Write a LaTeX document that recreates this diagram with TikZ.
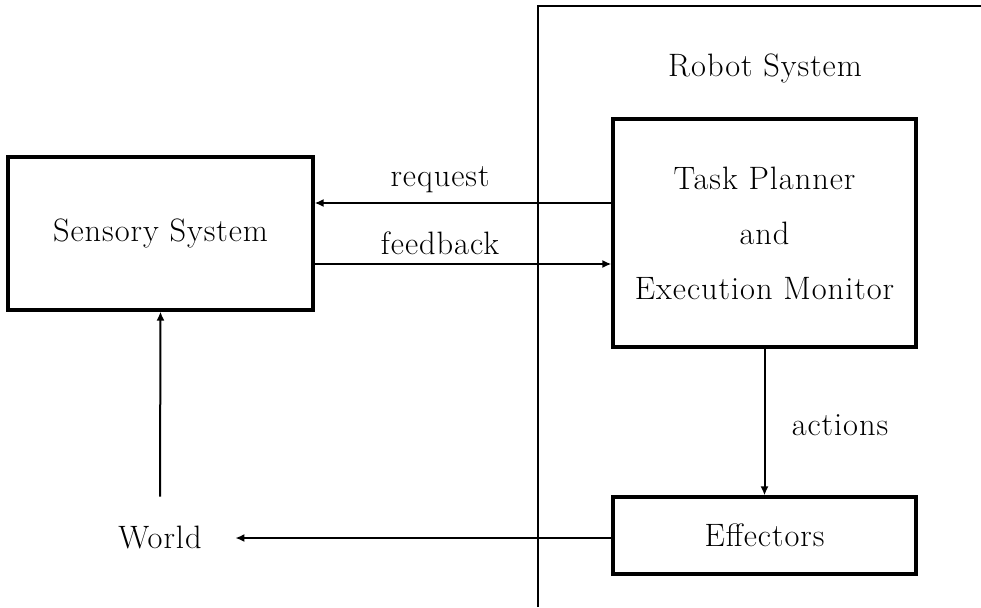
\documentclass[tikz,border=0pt]{standalone}
\usepackage{fontspec}
\setmainfont{Latin Modern Roman}[LetterSpace=3]
\usetikzlibrary{arrows.meta}
\begin{document}
\begin{tikzpicture}[x=0.5pt,y=-0.5pt,
  every node/.style={font=\fontsize{16.2}{27.5}\selectfont},
  blockbox/.style={draw,line width=1.6pt,inner sep=0pt,align=center},
  conn/.style={line width=1pt,-{Latex[length=4.5pt,width=4pt]}},
  plainline/.style={line width=1pt}]
\useasboundingbox (0,0) rectangle (981,607);
% robot system boundary
\coordinate (rtop) at (538,6);
\coordinate (rbot) at (538,607);
\coordinate (rright) at (981,6);
\draw[plainline] (rbot) -- (rtop) -- (rright);
\node (robot) at (765,68) {Robot System};
% blocks
\node[blockbox,minimum width=152.5pt,minimum height=76.5pt] (sensory) at (160.5,233.5) {Sensory System};
\node[blockbox,minimum width=151.5pt,minimum height=114pt] (task) at (764.5,233) {Task Planner\\and\\Execution Monitor};
\node[blockbox,minimum width=151.5pt,minimum height=38.5pt] (eff) at (764.5,535.5) {Effectors};
\node[inner sep=0pt,minimum width=75pt,minimum height=41pt] (world) at (160,538) {World};
% connectors
\draw[conn] (task.west |- 0,203) -- (sensory.east |- 0,203);
\draw[conn] (sensory.east |- 0,264) -- (task.west |- 0,264);
\draw[conn] (task.south) -- (eff.north);
\draw[conn] (world.north) -- (sensory.south);
\draw[conn] (eff.west |- world.east) -- (world.east);
% labels
\node (req) at (440,180) {request};
\node (fb) at (440,243) {feedback};
\node (act) at (840,425) {actions};
\end{tikzpicture}
\end{document}
